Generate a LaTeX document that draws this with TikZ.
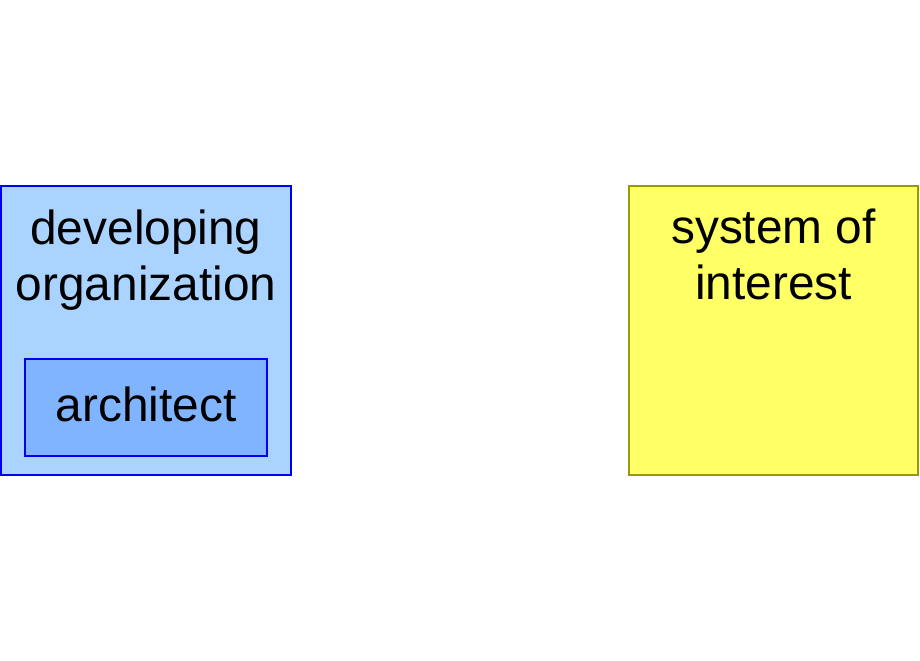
\documentclass[tikz,border=0pt]{standalone}
\usepackage{fontspec}
\setmainfont{Liberation Sans}
\usetikzlibrary{positioning}
\definecolor{orgfill}{RGB}{170,212,255}
\definecolor{rolefill}{RGB}{128,180,255}
\definecolor{orgline}{RGB}{0,0,240}
\definecolor{sysfill}{RGB}{255,255,102}
\definecolor{sysline}{RGB}{153,153,0}

\begin{document}
\begin{tikzpicture}[x=0.025cm, y=-0.025cm, line width=1.4pt,
    box/.style = {draw, rectangle, inner sep=0pt},
    title/.style = {inner sep=0pt, align=center, font=\fontsize{34}{39.5}\selectfont}]
    \useasboundingbox (0,0) rectangle (920,660);
    \node[box, draw=orgline, fill=orgfill, minimum width=7.225cm, minimum height=7.225cm] (org) at (146,330.5) {};
    \node[box, draw=orgline, fill=rolefill, minimum width=6.05cm, minimum height=2.425cm, title, text depth=0.15cm] (arch) at (146,407.5) {architect};
    \node[title] (orgname) [below=0.6cm of org.north] {developing\\organization};
    \node[box, draw=sysline, fill=sysfill, minimum width=7.225cm, minimum height=7.225cm] (sys) at (773.5,330.5) {};
    \node[title] (sysname) [below=0.58cm of sys.north] {system of\\interest};
\end{tikzpicture}
\end{document}
